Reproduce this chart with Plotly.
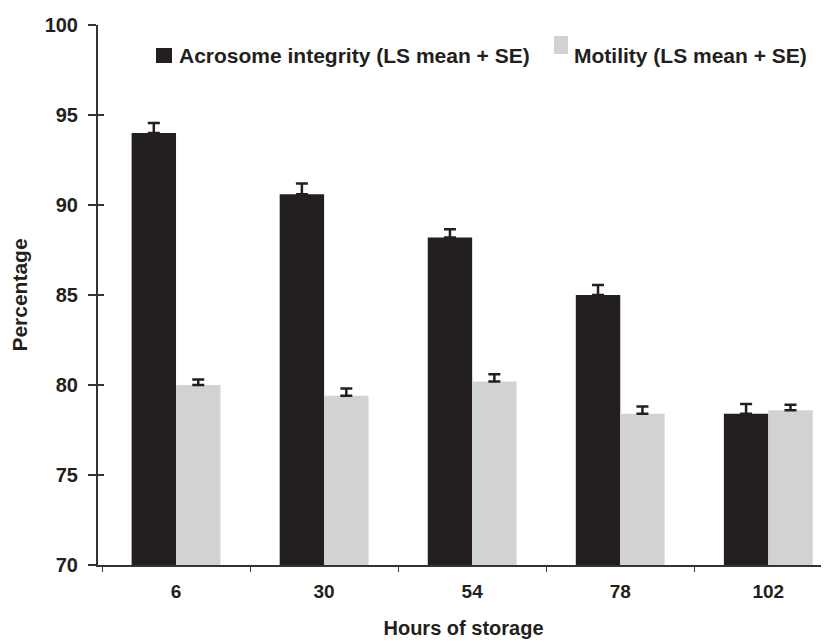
import plotly.graph_objects as go

hours = ["6", "30", "54", "78", "102"]
acrosome = [94.0, 90.6, 88.2, 85.0, 78.4]
acrosome_se = [0.55, 0.6, 0.45, 0.55, 0.55]
motility = [80.0, 79.4, 80.2, 78.4, 78.6]
motility_se = [0.3, 0.4, 0.4, 0.4, 0.3]
y_ticks = [70, 75, 80, 85, 90, 95, 100]

black = "#231f20"
gray = "#d1d2d4"
font_fam = "Liberation Sans, Arial, sans-serif"

fig = go.Figure()
fig.add_trace(go.Bar(
    x=hours, y=acrosome, name="Acrosome integrity (LS mean + SE)",
    marker=dict(color=black, line=dict(width=0)),
    error_y=dict(type="data", array=acrosome_se, arrayminus=[0]*5, symmetric=False,
                 color=black, thickness=2.5, width=6),
))
fig.add_trace(go.Bar(
    x=hours, y=motility, name="Motility (LS mean + SE)",
    marker=dict(color=gray, line=dict(width=0)),
    error_y=dict(type="data", array=motility_se, arrayminus=[0]*5, symmetric=False,
                 color=black, thickness=2.5, width=6),
))

fig.update_layout(
    width=821, height=635,
    margin=dict(l=90, r=0, t=17, b=78),
    paper_bgcolor="white", plot_bgcolor="white",
    barmode="group", bargap=0.4, bargroupgap=0,
    showlegend=False,
    font=dict(family=font_fam, color=black),
    xaxis=dict(
        type="category", range=[-0.527, 4.41],
        showline=True, linecolor="#333", linewidth=2,
        ticks="outside", tickson="boundaries", ticklen=5, tickcolor="#333",
        ticklabelstandoff=8,
        tickfont=dict(size=19, family=font_fam, color=black, weight="bold"),
        title=dict(text="<b>Hours of storage</b>", font=dict(size=20), standoff=20),
        showgrid=False, zeroline=False,
    ),
    yaxis=dict(
        range=[70, 100], tickvals=y_ticks,
        showline=True, linecolor="#333", linewidth=2,
        ticks="outside", ticklen=8, tickcolor="#333", tickwidth=1.5,
        ticklabelstandoff=6,
        tickfont=dict(size=20, family=font_fam, color=black, weight="bold"),
        title=dict(text="<b>Percentage</b>", font=dict(size=21), standoff=20),
        showgrid=False, zeroline=False,
    ),
    yaxis2=dict(
        range=[70, 100], tickvals=y_ticks, overlaying="y", side="left",
        anchor="x", showline=False, ticks="inside", ticklen=6,
        tickcolor="#333", tickwidth=1.5, showticklabels=False, showgrid=False,
        zeroline=False,
    ),
)
# invisible trace to show yaxis2 ticks
fig.add_trace(go.Scatter(x=[hours[0]], y=[70], yaxis="y2", mode="markers",
                         marker=dict(opacity=0), hoverinfo="skip", showlegend=False))

# legend drawn manually (paper fractions of the plot area: 731 px wide, 540 px tall)
fig.add_shape(type="rect", xref="paper", yref="paper",
              x0=(156 - 98) / 731, x1=(172 - 98) / 731,
              y0=(565 - 63) / 540, y1=(565 - 48) / 540,
              fillcolor=black, line=dict(width=0))
fig.add_annotation(xref="paper", yref="paper", x=(177 - 98) / 731, y=(565 - 55) / 540,
                   xanchor="left", yanchor="middle", showarrow=False,
                   text="<b>Acrosome integrity (LS mean + SE)</b>",
                   font=dict(size=21, family=font_fam, color=black))
fig.add_shape(type="rect", xref="paper", yref="paper",
              x0=(554 - 98) / 731, x1=(568 - 98) / 731,
              y0=(565 - 54) / 540, y1=(565 - 36) / 540,
              fillcolor=gray, line=dict(width=0))
fig.add_annotation(xref="paper", yref="paper", x=(572 - 98) / 731, y=(565 - 55) / 540,
                   xanchor="left", yanchor="middle", showarrow=False,
                   text="<b>Motility (LS mean + SE)</b>",
                   font=dict(size=21, family=font_fam, color=black))

fig.write_html("out.html")
